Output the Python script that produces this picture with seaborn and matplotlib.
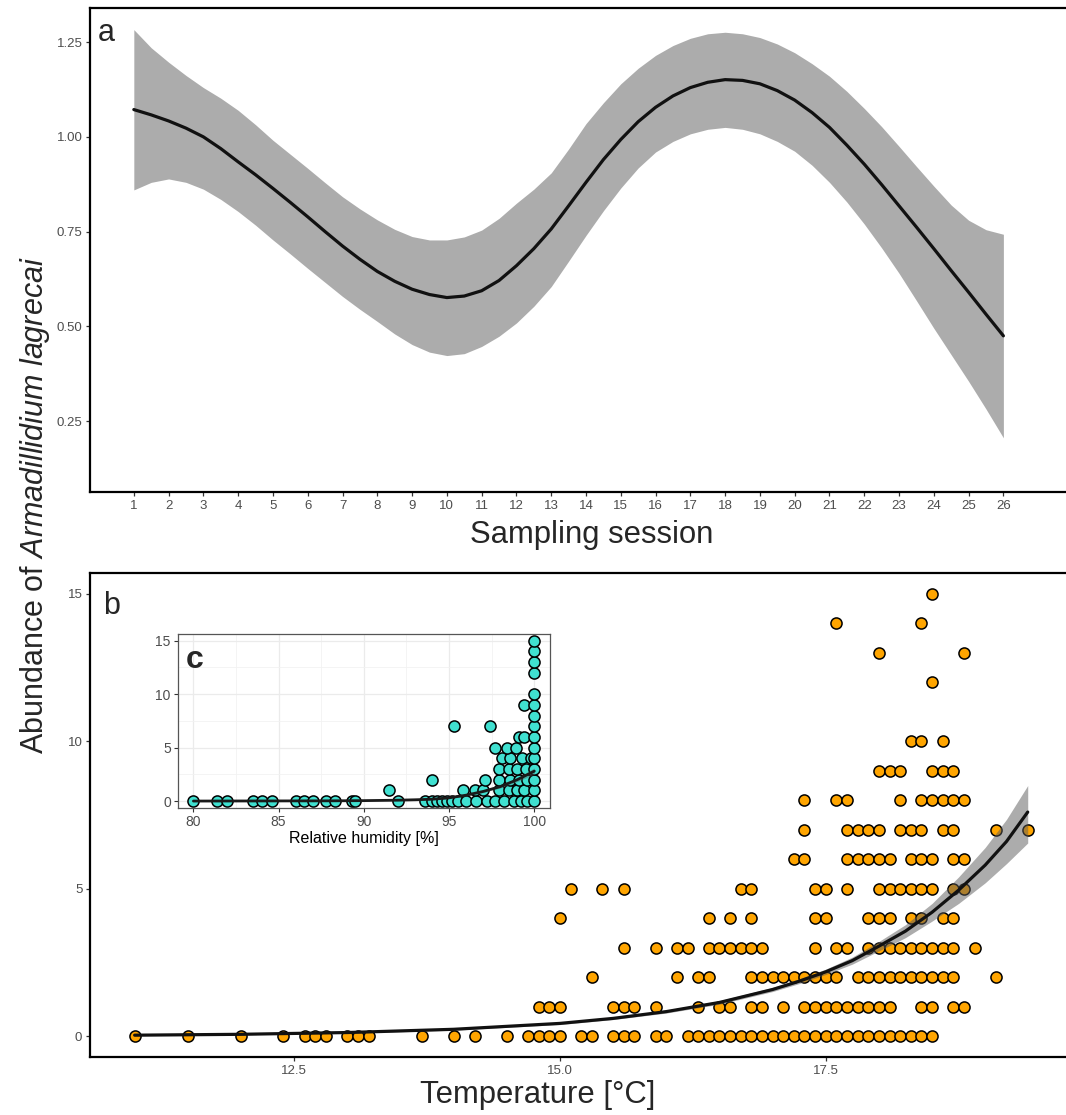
import matplotlib
matplotlib.use("Agg")
import matplotlib.pyplot as plt
import seaborn as sns
import pandas as pd
from matplotlib.ticker import MultipleLocator

# ---------------- panel a: smooth of abundance over sampling sessions (read every half session)
session = [1, 1.5, 2, 2.5, 3, 3.5, 4, 4.5, 5, 5.5, 6, 6.5, 7, 7.5, 8, 8.5, 9, 9.5,
           10, 10.5, 11, 11.5, 12, 12.5, 13, 13.5, 14, 14.5, 15, 15.5, 16, 16.5,
           17, 17.5, 18, 18.5, 19, 19.5, 20, 20.5, 21, 21.5, 22, 22.5, 23, 23.5,
           24, 24.5, 25, 25.5, 26]
fit_a = [1.072, 1.058, 1.042, 1.023, 1.000, 0.969, 0.934, 0.900, 0.864, 0.827,
         0.789, 0.750, 0.712, 0.677, 0.645, 0.619, 0.598, 0.584, 0.576, 0.580,
         0.594, 0.621, 0.660, 0.705, 0.757, 0.818, 0.880, 0.940, 0.993, 1.040,
         1.078, 1.108, 1.130, 1.144, 1.151, 1.149, 1.140, 1.122, 1.097, 1.064,
         1.025, 0.978, 0.928, 0.874, 0.818, 0.762, 0.705, 0.647, 0.590, 0.532, 0.475]
hi_a = [1.283, 1.235, 1.197, 1.162, 1.130, 1.102, 1.070, 1.032, 0.991, 0.954,
        0.917, 0.879, 0.842, 0.810, 0.781, 0.756, 0.737, 0.728, 0.728, 0.736,
        0.754, 0.785, 0.825, 0.862, 0.905, 0.968, 1.035, 1.090, 1.140, 1.181,
        1.215, 1.241, 1.260, 1.272, 1.276, 1.272, 1.262, 1.245, 1.222, 1.193,
        1.160, 1.120, 1.075, 1.027, 0.975, 0.922, 0.870, 0.820, 0.780, 0.755, 0.743]
lo_a = [0.860, 0.880, 0.889, 0.880, 0.862, 0.835, 0.803, 0.767, 0.728, 0.691,
        0.653, 0.616, 0.579, 0.545, 0.513, 0.480, 0.452, 0.432, 0.423, 0.428,
        0.447, 0.474, 0.509, 0.553, 0.605, 0.672, 0.740, 0.805, 0.865, 0.918,
        0.960, 0.988, 1.008, 1.020, 1.025, 1.020, 1.008, 0.988, 0.962, 0.925,
        0.880, 0.828, 0.770, 0.707, 0.640, 0.568, 0.495, 0.425, 0.355, 0.282, 0.206]
session_ticks = list(range(1, 27))

# ---------------- panel b: abundance vs temperature (temperatures per count)
temp_n0 = [11.0, 11.5, 12.0, 12.4, 12.6, 12.7, 12.8, 13.0, 13.1, 13.2, 13.7, 14.0,
           14.2, 14.5, 14.7, 14.8, 14.9, 15.0, 15.2, 15.3, 15.5, 15.6, 15.7, 15.9,
           16.0, 16.2, 16.3, 16.4, 16.5, 16.6, 16.7, 16.8, 16.9, 17.0, 17.1, 17.2,
           17.3, 17.4, 17.5, 17.6, 17.7, 17.8, 17.9, 18.0, 18.1, 18.2, 18.3, 18.4, 18.5]
temp_n1 = [14.8, 14.9, 15.0, 15.5, 15.6, 15.7, 15.9, 16.3, 16.5, 16.6, 16.8, 16.9,
           17.1, 17.3, 17.4, 17.5, 17.6, 17.7, 17.8, 17.9, 18.0, 18.1, 18.4, 18.5,
           18.7, 18.8]
temp_n2 = [15.3, 16.1, 16.3, 16.4, 16.8, 16.9, 17.0, 17.1, 17.2, 17.3, 17.4, 17.5,
           17.6, 17.8, 17.9, 18.0, 18.1, 18.2, 18.3, 18.4, 18.5, 18.6, 18.7, 19.1]
temp_n3 = [15.6, 15.9, 16.1, 16.2, 16.4, 16.5, 16.6, 16.7, 16.8, 16.9, 17.4, 17.6,
           17.7, 17.9, 18.0, 18.1, 18.2, 18.3, 18.4, 18.5, 18.6, 18.7, 18.9]
temp_n4 = [15.0, 16.4, 16.6, 16.8, 17.4, 17.5, 17.9, 18.0, 18.1, 18.3, 18.4, 18.6, 18.7]
temp_n5 = [15.1, 15.4, 15.6, 16.7, 16.8, 17.4, 17.5, 17.7, 18.0, 18.1, 18.2, 18.3,
           18.4, 18.5, 18.7, 18.8]
temp_n6 = [17.2, 17.3, 17.7, 17.8, 17.9, 18.0, 18.1, 18.3, 18.4, 18.5, 18.7, 18.8]
temp_n7 = [17.3, 17.7, 17.8, 17.9, 18.0, 18.2, 18.3, 18.4, 18.6, 18.7, 19.1, 19.4]
temp_n8 = [17.3, 17.6, 17.7, 18.2, 18.4, 18.5, 18.6, 18.7, 18.8]
temp_n9 = [18.0, 18.1, 18.2, 18.5, 18.6, 18.7]
temp_n10 = [18.3, 18.4, 18.6]
temp_n12 = [18.5]
temp_n13 = [18.0, 18.8]
temp_n14 = [17.6, 18.4]
temp_n15 = [18.5]

temp_curve = [11.0, 12.0, 13.0, 14.0, 15.0, 15.5, 16.0, 16.5, 17.0, 17.25, 17.5,
              17.75, 18.0, 18.25, 18.5, 18.75, 19.0, 19.2, 19.4]
fit_b = [0.03, 0.06, 0.12, 0.23, 0.43, 0.60, 0.83, 1.14, 1.58, 1.86, 2.18,
         2.56, 3.05, 3.56, 4.20, 4.95, 5.80, 6.60, 7.60]
lo_b = [0.02, 0.045, 0.095, 0.20, 0.39, 0.56, 0.78, 1.08, 1.51, 1.78, 2.09,
        2.44, 2.89, 3.34, 3.90, 4.50, 5.20, 5.85, 6.55]
hi_b = [0.04, 0.075, 0.145, 0.26, 0.47, 0.64, 0.88, 1.20, 1.65, 1.94, 2.27,
        2.68, 3.21, 3.78, 4.50, 5.40, 6.40, 7.35, 8.50]

# ---------------- panel c (inset): abundance vs relative humidity
hum_n0 = [80.0, 81.4, 82.0, 83.5, 84.0, 84.6, 86.0, 86.5, 87.0, 87.8, 88.3, 89.3,
          89.5, 92.0, 93.6, 94.0, 94.3, 94.6, 94.9, 95.2, 95.5, 96.0, 96.6, 97.2,
          97.7, 98.2, 98.8, 99.2, 99.6, 100.0]
hum_n1 = [91.5, 95.8, 96.5, 97.0, 97.9, 98.5, 99.0, 99.4, 100.0]
hum_n2 = [94.0, 97.1, 97.9, 98.6, 99.1, 99.6, 100.0]
hum_n3 = [97.9, 98.5, 99.0, 99.5, 100.0]
hum_n4 = [98.1, 98.6, 99.3, 99.8, 100.0]
hum_n5 = [97.7, 98.4, 98.9, 100.0]
hum_n6 = [99.1, 99.4, 100.0]
hum_n7 = [95.3, 97.4, 100.0]
hum_n8 = [100.0]
hum_n9 = [99.4, 100.0]
hum_n10 = [100.0]
hum_n12 = [100.0]
hum_n13 = [100.0]
hum_n14 = [100.0]
hum_n15 = [100.0]

hum_curve = [80.0, 84.0, 88.0, 90.0, 92.0, 93.0, 94.0, 95.0, 96.0, 97.0, 98.0, 99.0, 100.0]
fit_c = [0.0, 0.01, 0.02, 0.04, 0.08, 0.12, 0.17, 0.30, 0.55, 0.90, 1.35, 2.00, 2.80]
lo_c = [0.0, 0.005, 0.015, 0.03, 0.06, 0.09, 0.13, 0.24, 0.47, 0.80, 1.22, 1.82, 2.50]
hi_c = [0.0, 0.015, 0.025, 0.05, 0.10, 0.15, 0.21, 0.36, 0.63, 1.00, 1.48, 2.18, 3.10]

temp_rows = [temp_n0, temp_n1, temp_n2, temp_n3, temp_n4, temp_n5, temp_n6, temp_n7,
             temp_n8, temp_n9, temp_n10, temp_n12, temp_n13, temp_n14, temp_n15]
hum_rows = [hum_n0, hum_n1, hum_n2, hum_n3, hum_n4, hum_n5, hum_n6, hum_n7,
            hum_n8, hum_n9, hum_n10, hum_n12, hum_n13, hum_n14, hum_n15]
counts = [0, 1, 2, 3, 4, 5, 6, 7, 8, 9, 10, 12, 13, 14, 15]

df_b = pd.DataFrame([(t, n) for n, row in zip(counts, temp_rows) for t in row],
                    columns=["temp", "count"])
df_c = pd.DataFrame([(h, n) for n, row in zip(counts, hum_rows) for h in row],
                    columns=["hum", "count"])

# =========================
# Style
# =========================
sns.set_style("white")
plt.rcParams["font.family"] = ["Liberation Sans", "DejaVu Sans"]
plt.rcParams["mathtext.fontset"] = "custom"
plt.rcParams["mathtext.rm"] = "Liberation Sans"
plt.rcParams["mathtext.it"] = "Liberation Sans:italic"

W, H = 1066, 1115
fig = plt.figure(figsize=(W / 100, H / 100), dpi=100)


def px_axes(left, top, right, bottom):
    return fig.add_axes([left / W, 1 - bottom / H, (right - left) / W, (bottom - top) / H])


def style_main(ax):
    for side in ["left", "bottom", "top"]:
        ax.spines[side].set_color("black")
        ax.spines[side].set_linewidth(1.6)
    ax.spines["right"].set_visible(False)
    ax.tick_params(axis="both", length=3, width=0.9, color="#333333",
                   labelcolor="#4D4D4D", labelsize=9.5, pad=2.5,
                   left=True, bottom=True)
    ax.set_xlabel("")
    ax.set_ylabel("")
    ax.grid(False)


ax_a = px_axes(90, 8, 1066, 492)
ax_b = px_axes(90, 573, 1066, 1057)
ax_c = px_axes(177.7, 634, 550, 808)

# ---- panel a
ax_a.fill_between(session, lo_a, hi_a, color="#ACACAC", lw=0, zorder=1)
sns.lineplot(x=session, y=fit_a, ax=ax_a, color="#111111", lw=2.3, zorder=2)
ax_a.set_xlim(-0.26, 27.8)
ax_a.set_ylim(0.063, 1.34)
ax_a.set_xticks(session_ticks)
ax_a.set_yticks([0.25, 0.50, 0.75, 1.00, 1.25])
ax_a.set_yticklabels(["0.25", "0.50", "0.75", "1.00", "1.25"])
style_main(ax_a)

# ---- panel b
sns.scatterplot(data=df_b, x="temp", y="count", ax=ax_b, s=64, color="#FFA500",
                edgecolor="black", linewidth=1.1, zorder=2, legend=False)
ax_b.fill_between(temp_curve, lo_b, hi_b, color="#5A5A5A", alpha=0.5, lw=0, zorder=3)
sns.lineplot(x=temp_curve, y=fit_b, ax=ax_b, color="#111111", lw=2.3, zorder=4)
ax_b.set_xlim(10.58, 19.76)
ax_b.set_ylim(-0.71, 15.71)
ax_b.set_xticks([12.5, 15.0, 17.5])
ax_b.set_xticklabels(["12.5", "15.0", "17.5"])
ax_b.set_yticks([0, 5, 10, 15])
style_main(ax_b)

# ---- inset c
ax_c.set_facecolor("white")
ax_c.xaxis.set_minor_locator(MultipleLocator(2.5))
ax_c.yaxis.set_minor_locator(MultipleLocator(2.5))
ax_c.grid(True, which="major", color="#EBEBEB", lw=0.9, zorder=0)
ax_c.grid(True, which="minor", color="#F2F2F2", lw=0.6, zorder=0)
ax_c.set_axisbelow(True)
sns.scatterplot(data=df_c, x="hum", y="count", ax=ax_c, s=64, color="#40E0D0",
                edgecolor="black", linewidth=1.1, zorder=2, legend=False)
ax_c.fill_between(hum_curve, lo_c, hi_c, color="#5A5A5A", alpha=0.4, lw=0, zorder=3)
sns.lineplot(x=hum_curve, y=fit_c, ax=ax_c, color="#1A1A1A", lw=2.0, zorder=4)
ax_c.set_xlim(79.08, 100.92)
ax_c.set_ylim(-0.65, 15.63)
ax_c.set_xticks([80, 85, 90, 95, 100])
ax_c.set_yticks([0, 5, 10, 15])
for s in ax_c.spines.values():
    s.set_visible(True)
    s.set_color("#555555")
    s.set_linewidth(0.9)
ax_c.tick_params(axis="both", which="major", length=3, width=0.8, color="#333333",
                 labelcolor="#4D4D4D", labelsize=10, pad=2, left=True, bottom=True)
ax_c.tick_params(axis="both", which="minor", length=0)
ax_c.set_xlabel("Relative humidity [%]", fontsize=11.5, labelpad=1.5, color="black")
ax_c.set_ylabel("")

# ---- labels
fig.text(98 / W, 1 - 41 / H, "a", fontsize=22, ha="left", va="baseline")
fig.text(103 / W, 1 - 614 / H, "b", fontsize=22, ha="left", va="baseline")
fig.text(186 / W, 1 - 668 / H, "c", fontsize=23, fontweight="bold", ha="left", va="baseline")

fig.text(592 / W, 1 - 543 / H, "Sampling session", fontsize=22.3, ha="center", va="baseline")
fig.text(538 / W, 1 - 1103 / H, "Temperature [°C]", fontsize=22.3, ha="center", va="baseline")
fig.text(35 / W, 1 - 505 / H, r"Abundance of $\mathit{Armadillidium\ lagrecai}$",
         fontsize=22, rotation=90, ha="center", va="center")

fig.savefig("out.png", dpi=100)
